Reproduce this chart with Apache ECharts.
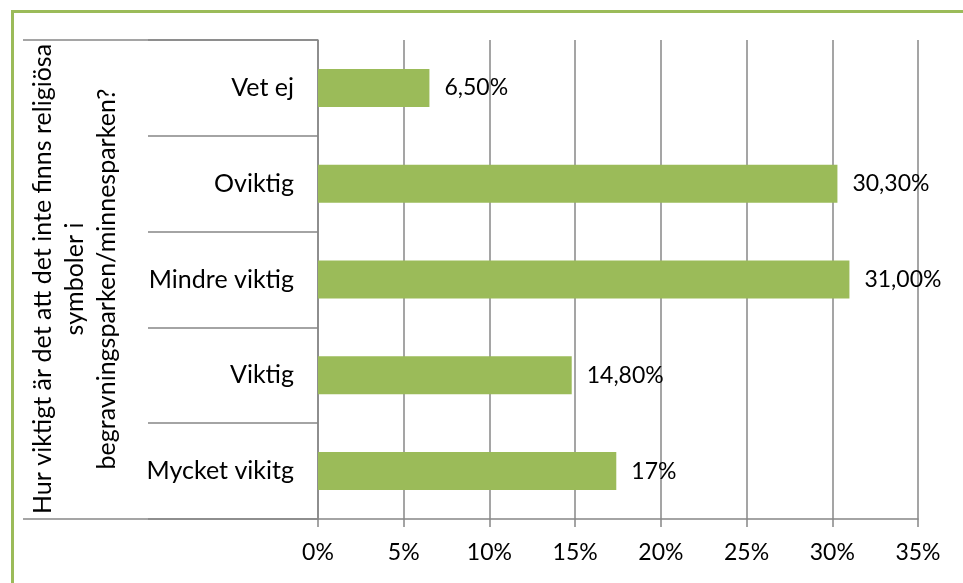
<!DOCTYPE html>
<html>
<head>
<meta charset="utf-8">
<script src="https://cdn.jsdelivr.net/npm/echarts@6/dist/echarts.min.js"></script>
<style>
  html, body { margin: 0; padding: 0; background: #fff; }
  #chart { width: 963px; height: 583px; }
</style>
</head>
<body>
<div id="chart"></div>
<script>
  // categories top to bottom
  var categories = ['Vet ej', 'Oviktig', 'Mindre viktig', 'Viktig', 'Mycket vikitg'];
  var values = [6.5, 30.3, 31.0, 14.8, 17.4];
  var valueLabels = ['6,50%', '30,30%', '31,00%', '14,80%', '17%'];
  var axisTitle = 'Hur viktigt är det att det inte finns religiösa\nsymboler i\nbegravningsparken/minnesparken?';

  var GREEN = '#9BBB59';
  var GRAY = '#878787';
  var font = "Lato, 'Liberation Sans', sans-serif";

  var chart = echarts.init(document.getElementById('chart'));
  chart.setOption({
    backgroundColor: '#fff',
    animation: false,
    textStyle: { fontFamily: font },
    grid: { left: 318, right: 45, top: 40, bottom: 64 },
    xAxis: {
      type: 'value',
      min: 0,
      max: 35,
      interval: 5,
      axisLine: { show: true, lineStyle: { color: GRAY, width: 1.5 } },
      axisTick: { show: true, length: 8, lineStyle: { color: GRAY, width: 1.5 } },
      splitLine: { show: true, lineStyle: { color: GRAY, width: 1.5 } },
      axisLabel: {
        formatter: '{value}%',
        fontSize: 23,
        color: '#000',
        margin: 22,
        fontFamily: font
      }
    },
    yAxis: {
      type: 'category',
      inverse: true,
      data: categories,
      axisLine: { show: true, lineStyle: { color: GRAY, width: 1.5 } },
      axisTick: { show: true, length: 170, lineStyle: { color: GRAY, width: 1.5 } },
      axisLabel: { fontSize: 25, color: '#000', margin: 24, fontFamily: font }
    },
    series: [{
      type: 'bar',
      data: values,
      barWidth: 38,
      itemStyle: { color: GREEN },
      label: {
        show: true,
        position: 'right',
        distance: 15,
        fontSize: 23,
        color: '#000',
        fontFamily: font,
        formatter: function (p) { return valueLabels[p.dataIndex]; }
      }
    }],
    graphic: [
      // green frame
      { type: 'rect', shape: { x: 11, y: 10, width: 952, height: 3 }, style: { fill: GREEN } },
      { type: 'rect', shape: { x: 11, y: 10, width: 3, height: 573 }, style: { fill: GREEN } },
      // outer category box lines
      { type: 'line', shape: { x1: 23, y1: 40, x2: 318, y2: 40 }, style: { stroke: GRAY, lineWidth: 1.5 } },
      { type: 'line', shape: { x1: 23, y1: 519, x2: 318, y2: 519 }, style: { stroke: GRAY, lineWidth: 1.5 } },
      // outer category title
      {
        type: 'text',
        x: 75,
        y: 279,
        rotation: Math.PI / 2,
        style: {
          text: axisTitle,
          fontSize: 25,
          fontFamily: font,
          fill: '#000',
          align: 'center',
          verticalAlign: 'middle',
          lineHeight: 32
        }
      }
    ]
  });
</script>
</body>
</html>
